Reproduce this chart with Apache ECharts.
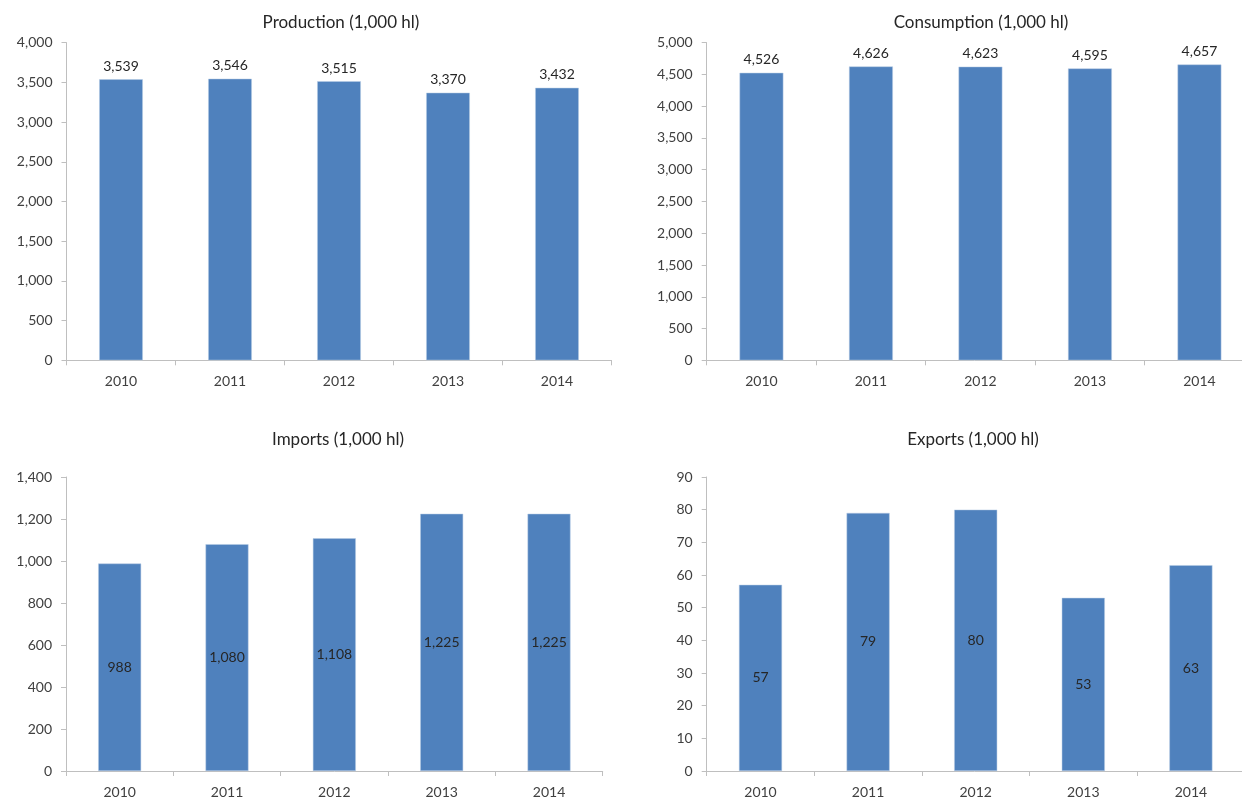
<!DOCTYPE html>
<html>
<head>
<meta charset="utf-8">
<script src="https://cdn.jsdelivr.net/npm/echarts@6/dist/echarts.min.js"></script>
<style>
html,body{margin:0;padding:0;background:#fff;}
#chart{width:1242px;height:801px;}
</style>
</head>
<body>
<div id="chart"></div>
<script>
const years = ['2010', '2011', '2012', '2013', '2014'];
const production = [3539, 3546, 3515, 3370, 3432];
const consumption = [4526, 4626, 4623, 4595, 4657];
const imports = [988, 1080, 1108, 1225, 1225];
const exports = [57, 79, 80, 53, 63];
const titles = ['Production (1,000 hl)', 'Consumption (1,000 hl)', 'Imports (1,000 hl)', 'Exports (1,000 hl)'];

const FONT = 'Lato';
const BAR = '#4F81BD';
const TXT = '#404040';
const AXIS = '#BFBFBF';
const fmt = v => v.toLocaleString('en-US');

const grids = [
  {left: 66.5, width: 545, top: 42.7, height: 317.6},
  {left: 706.7, width: 547.5, top: 42.7, height: 317.6},
  {left: 66, width: 536.7, top: 477, height: 294},
  {left: 706.7, width: 538, top: 477, height: 294}
];
const yCfg = [
  {max: 4000, interval: 500},
  {max: 5000, interval: 500},
  {max: 1400, interval: 200},
  {max: 90, interval: 10}
];
const dataSets = [production, consumption, imports, exports];
const labelPos = ['top', 'top', 'inside', 'inside'];
const titlePos = [
  {x: 336, y: 18}, {x: 976, y: 18}, {x: 333, y: 435}, {x: 968, y: 435}
];

const chart = echarts.init(document.getElementById('chart'));
const option = {
  backgroundColor: '#fff',
  animation: false,
  title: titles.map((t, i) => ({
    text: t,
    left: titlePos[i].x, top: titlePos[i].y,
    textAlign: 'center', textVerticalAlign: 'middle',
    textStyle: {fontFamily: FONT, fontSize: 17, fontWeight: 'normal', color: '#262626'}
  })),
  grid: grids.map(g => Object.assign({containLabel: false, outerBoundsMode: 'none'}, g)),
  xAxis: grids.map((g, i) => ({
    type: 'category', gridIndex: i, data: years,
    axisLine: {lineStyle: {color: AXIS, width: 1}},
    axisTick: {show: true, length: 5, lineStyle: {color: AXIS}},
    axisLabel: {fontFamily: FONT, fontSize: 14, color: TXT, margin: 14}
  })),
  yAxis: grids.map((g, i) => ({
    type: 'value', gridIndex: i, min: 0, max: yCfg[i].max, interval: yCfg[i].interval,
    axisLine: {show: true, lineStyle: {color: AXIS, width: 1}},
    axisTick: {show: true, length: 5, lineStyle: {color: AXIS}},
    splitLine: {show: false},
    axisLabel: {fontFamily: FONT, fontSize: 14, color: TXT, margin: 14, formatter: fmt}
  })),
  series: dataSets.map((d, i) => ({
    type: 'bar', xAxisIndex: i, yAxisIndex: i, data: d,
    barWidth: '40%',
    itemStyle: {color: BAR, borderColor: '#B9CDE5', borderWidth: 0.5},
    label: {
      show: true, position: labelPos[i], distance: 6,
      fontFamily: FONT, fontSize: 14, color: '#262626',
      formatter: p => fmt(p.value)
    }
  }))
};
chart.setOption(option);
</script>
</body>
</html>
